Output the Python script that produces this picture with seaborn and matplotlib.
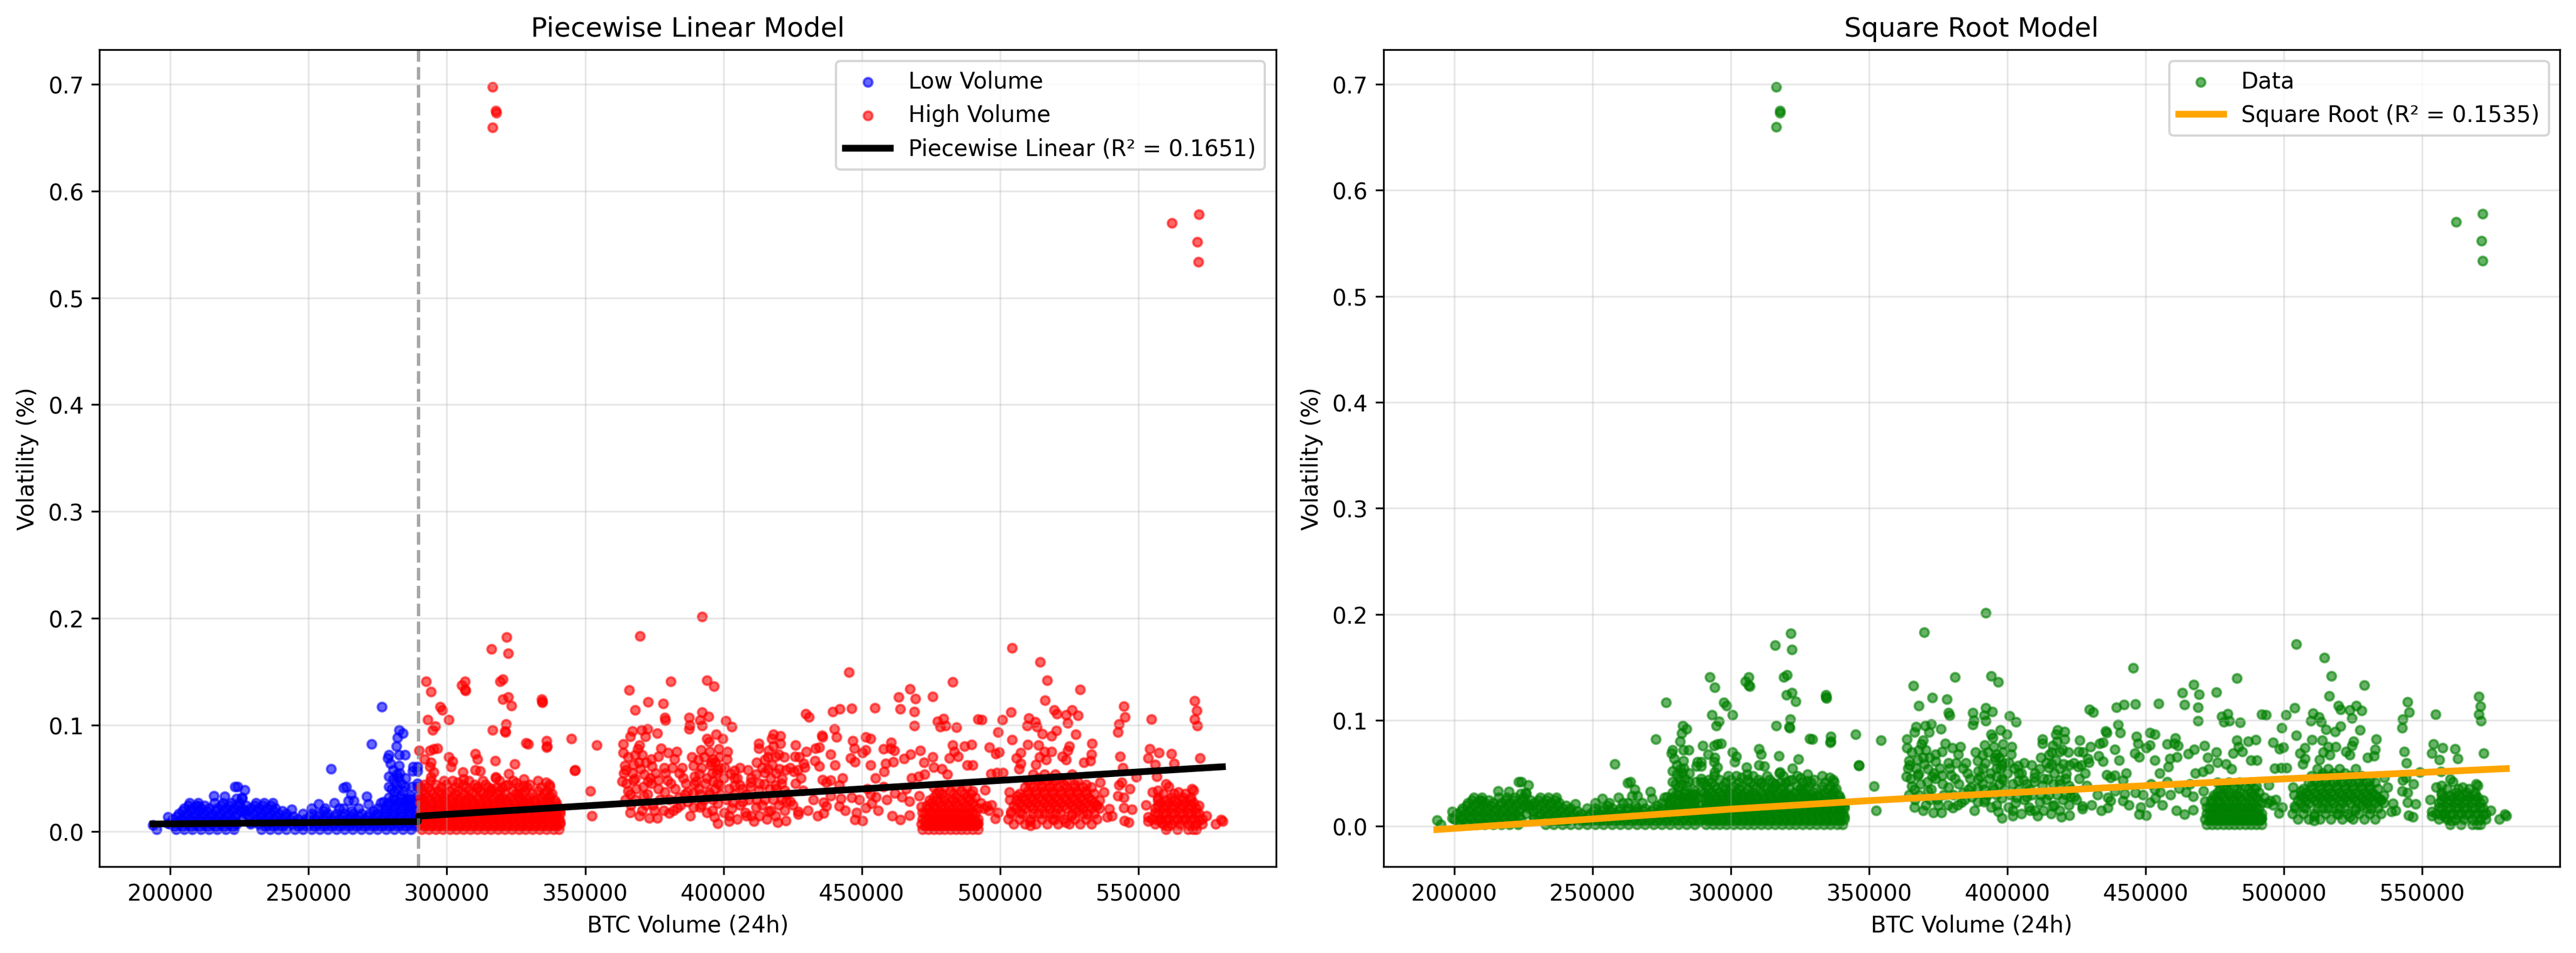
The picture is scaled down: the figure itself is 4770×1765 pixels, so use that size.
import numpy as np
import pandas as pd
import matplotlib
matplotlib.use("Agg")
import matplotlib.pyplot as plt
import seaborn as sns

# volume in thousands of BTC, volatility in %
threshold_k = 289.7

# low volume (blue) – scattered points and the spike just below the threshold
low_sparse = [
    (193.7, 0.006), (195.1, 0.002), (199.2, 0.014), (199.2, 0.008), (215.8, 0.0335),
    (219.7, 0.033), (223.3, 0.042), (224.3, 0.042), (226.8, 0.039), (225.9, 0.032),
    (226.9, 0.020), (228.8, 0.009), (210.0, 0.024), (243.8, 0.021), (253.6, 0.026),
    (258.1, 0.059), (259.3, 0.027), (262.7, 0.041), (263.6, 0.042), (265.3, 0.035),
    (264.3, 0.029), (266.3, 0.029), (262.7, 0.022), (271.0, 0.033), (271.5, 0.026),
    (272.8, 0.082), (276.5, 0.117), (277.0, 0.028),
    (282.7, 0.095), (284.0, 0.092), (282.2, 0.088), (281.7, 0.080), (279.0, 0.072),
    (278.6, 0.069), (279.6, 0.064), (282.8, 0.072), (284.8, 0.072), (282.8, 0.062),
    (281.9, 0.054), (280.5, 0.049), (279.0, 0.052), (279.0, 0.042), (284.8, 0.042),
    (281.0, 0.037), (283.4, 0.0335), (279.0, 0.032), (286.9, 0.0335), (287.3, 0.042),
    (287.6, 0.057), (287.9, 0.061), (289.3, 0.061), (289.3, 0.057), (289.3, 0.045),
    (289.3, 0.042), (289.3, 0.0335), (280.5, 0.058), (281.5, 0.045), (282.5, 0.050),
    (283.5, 0.045), (281.0, 0.030), (282.0, 0.040), (283.0, 0.055), (284.0, 0.038),
    (285.5, 0.030), (285.0, 0.050), (280.0, 0.040), (286.0, 0.025), (283.0, 0.028),
    (287.0, 0.030),
]

# low volume dense band, read row by row (volatility level, volumes)
low_band = [
    (0.002, [202, 205, 208, 211, 214, 217, 220, 223, 233, 236, 239, 242, 245, 248, 251,
             254, 257, 260, 263, 266, 269, 272, 275, 278, 281, 284, 287]),
    (0.0045, [201.5, 204.5, 207.5, 210.5, 213.5, 216.5, 219.5, 222.5, 234.5, 237.5, 240.5,
              246.5, 249.5, 252.5, 255.5, 258.5, 261.5, 264.5, 267.5, 270.5, 273.5, 276.5,
              279.5, 282.5, 285.5, 288.5]),
    (0.007, [200, 203, 206, 209, 212, 215, 218, 221, 224, 229, 232, 235, 238, 241, 244,
             247, 250, 253, 256, 259, 262, 265, 268, 271, 274, 277, 280, 283, 286, 288.5]),
    (0.0095, [202.5, 205.5, 208.5, 211.5, 214.5, 217.5, 220.5, 223.5, 230.5, 233.5, 236.5,
              239.5, 242.5, 245.5, 248.5, 251.5, 254.5, 257.5, 260.5, 263.5, 266.5, 269.5,
              272.5, 275.5, 278.5, 281.5, 284.5, 287.5]),
    (0.012, [201, 204, 207, 210, 213, 216, 219, 222, 226, 231, 234, 237, 240, 243, 246,
             249, 252, 255, 258, 261, 264, 267, 270, 273, 276, 279, 282, 285, 288]),
    (0.0145, [202.5, 205.5, 208.5, 211.5, 214.5, 217.5, 220.5, 223.5, 228.5, 232.5, 235.5,
              238.5, 241.5, 244.5, 250.5, 253.5, 256.5, 259.5, 262.5, 265.5, 268.5, 271.5,
              274.5, 277.5, 280.5, 283.5, 286.5, 289]),
    (0.017, [203, 206, 209, 212, 215, 218, 221, 224, 227, 230, 233, 236, 239, 242, 248,
             251, 254, 257, 260, 263, 266, 269, 272, 275, 278, 281, 284, 287]),
    (0.0195, [204.5, 207.5, 210.5, 213.5, 216.5, 219.5, 222.5, 225.5, 228.5, 231.5, 234.5,
              237.5, 240.5, 255.5, 265.5, 273.5, 277.5, 280.5, 283.5, 286.5, 289]),
    (0.022, [205, 208, 211, 214, 217, 220, 223, 226, 229, 232, 235, 238, 251, 256, 261,
             268, 275, 278, 281, 284, 287]),
    (0.0245, [206.5, 209.5, 212.5, 218.5, 221.5, 224.5, 227.5, 230.5, 233.5, 236.5, 278,
              281, 284, 287]),
    (0.027, [207, 210, 216, 219, 222, 225, 231, 234, 237, 276, 279, 282, 285, 288]),
    (0.031, [224, 226, 280.5, 283.5, 286.5]),
]

# high volume (red) – scattered points
high_sparse = [
    (289.9, 0.076), (292.4, 0.141), (294.2, 0.131), (297.5, 0.117), (298.4, 0.114),
    (293.1, 0.105), (300.6, 0.105), (295.8, 0.099), (294.8, 0.095), (306.5, 0.141),
    (305.3, 0.137), (306.5, 0.133), (306.8, 0.132), (316.1, 0.171), (321.6, 0.182),
    (322.1, 0.167), (319.2, 0.141), (320.3, 0.143), (320.2, 0.124), (322.1, 0.126),
    (323.4, 0.118), (334.3, 0.124), (334.5, 0.121), (334.4, 0.122), (321.4, 0.101),
    (321.0, 0.094), (321.2, 0.093), (316.5, 0.095), (328.6, 0.083), (329.4, 0.082),
    (336.1, 0.085), (336.0, 0.079), (336.2, 0.080), (345.1, 0.087), (354.2, 0.081),
    (346.2, 0.0575), (346.3, 0.058), (351.8, 0.038), (352.5, 0.015), (295.2, 0.0775),
    (296.5, 0.078), (293.9, 0.076), (291.9, 0.068), (294.2, 0.065), (293.9, 0.061),
    (295.2, 0.056), (294.2, 0.051), (300.6, 0.070), (302.0, 0.066), (301.4, 0.061),
    (310.2, 0.073), (311.0, 0.068), (310.2, 0.058), (312.1, 0.057), (305.7, 0.056),
    (305.9, 0.049), (317.4, 0.0665), (317.7, 0.051), (317.6, 0.050), (324.5, 0.0635),
    (322.3, 0.0545), (321.1, 0.043), (325.1, 0.0455), (327.8, 0.049), (327.8, 0.043),
    (325.8, 0.036), (335.8, 0.046), (337.3, 0.042), (337.3, 0.034), (304.0, 0.046),
    (310.8, 0.041), (316.1, 0.040), (319.3, 0.031), (327.8, 0.028),
    (316.5, 0.6976), (317.7, 0.675), (317.8, 0.673), (316.5, 0.6596),
    (562.2, 0.570), (571.9, 0.578), (571.4, 0.5525), (571.8, 0.5337),
    (366.0, 0.1325), (369.9, 0.183), (381.0, 0.141), (372.8, 0.1215), (378.2, 0.120),
    (368.0, 0.114), (378.7, 0.107), (379.0, 0.1045), (387.5, 0.107), (387.8, 0.100),
    (387.5, 0.096), (367.0, 0.094), (370.3, 0.095), (372.5, 0.0965), (376.0, 0.092),
    (366.3, 0.089), (371.7, 0.089), (363.7, 0.082), (369.6, 0.081), (369.0, 0.0775),
    (363.7, 0.074), (368.0, 0.072), (376.4, 0.0705), (380.0, 0.074), (382.3, 0.068),
    (364.4, 0.062), (364.7, 0.058), (371.9, 0.065), (374.1, 0.0615), (378.6, 0.060),
    (370.0, 0.059), (371.3, 0.054), (363.4, 0.047), (368.0, 0.0495), (372.8, 0.047),
    (376.4, 0.048), (379.7, 0.048), (366.3, 0.035), (371.2, 0.0335), (378.7, 0.037),
    (383.9, 0.032), (386.9, 0.037), (366.3, 0.018), (369.6, 0.015), (373.2, 0.013),
    (376.1, 0.013), (380.3, 0.0175), (383.3, 0.0225), (389.2, 0.023), (389.2, 0.062),
    (389.5, 0.052), (389.5, 0.0445), (389.2, 0.036),
    (364.5, 0.030), (366.5, 0.025), (368.5, 0.040), (370.5, 0.020), (372.5, 0.035),
    (374.5, 0.025), (376.5, 0.040), (378.5, 0.020), (380.5, 0.030), (382.5, 0.040),
    (384.5, 0.025), (386.5, 0.045), (388.0, 0.015), (367.0, 0.055), (373.5, 0.050),
    (379.0, 0.055), (385.0, 0.060), (365.0, 0.045), (369.5, 0.065), (375.5, 0.055),
    (381.5, 0.060), (387.0, 0.028), (365.5, 0.070), (367.5, 0.063), (370.5, 0.072),
    (374.0, 0.068), (377.5, 0.078), (383.0, 0.075), (385.5, 0.050), (388.5, 0.070),
    (365.5, 0.038), (367.5, 0.048), (371.0, 0.042), (374.0, 0.045), (377.0, 0.030),
    (381.0, 0.045), (384.0, 0.055), (386.0, 0.035), (382.0, 0.020), (375.0, 0.020),
    (372.0, 0.025), (368.0, 0.030), (364.0, 0.055),
    (392.2, 0.2015), (394.1, 0.142), (396.6, 0.136), (392.2, 0.112), (394.6, 0.108),
    (391.5, 0.1045), (392.2, 0.0995), (400.8, 0.104), (403.1, 0.0985), (397.4, 0.091),
    (399.7, 0.087), (394.1, 0.087), (394.8, 0.084), (391.8, 0.0765), (398.4, 0.0775),
    (390.9, 0.0675), (396.1, 0.068), (401.3, 0.068), (395.4, 0.0625), (398.0, 0.058),
    (391.2, 0.0545), (403.9, 0.0575), (402.6, 0.0545), (408.8, 0.058), (411.7, 0.054),
    (396.1, 0.047), (398.7, 0.0435), (403.9, 0.043), (405.9, 0.0435), (409.8, 0.046),
    (409.8, 0.042), (390.2, 0.047), (391.5, 0.035), (394.8, 0.037), (396.1, 0.030),
    (398.0, 0.0265), (391.5, 0.023), (394.1, 0.018), (396.7, 0.014), (398.0, 0.008),
    (400.3, 0.018), (403.3, 0.0275), (407.8, 0.018), (408.2, 0.015), (411.7, 0.023),
    (412.7, 0.0385), (412.7, 0.0825), (412.7, 0.078), (416.3, 0.076), (418.1, 0.091),
    (417.5, 0.087), (420.6, 0.0895), (420.6, 0.0825), (418.9, 0.0705), (419.9, 0.0725),
    (415.0, 0.0675), (417.6, 0.0625), (416.0, 0.059), (420.2, 0.059), (415.0, 0.0555),
    (422.5, 0.058), (421.2, 0.0495), (414.7, 0.0445), (418.9, 0.0435), (416.6, 0.040),
    (422.2, 0.0385), (416.3, 0.019), (418.9, 0.015), (422.2, 0.020), (422.8, 0.0285),
    (424.1, 0.0285), (419.6, 0.009), (415.7, 0.012), (422.5, 0.0105), (427.1, 0.019),
    (427.1, 0.0165), (426.1, 0.081), (425.8, 0.0705), (427.4, 0.070), (430.0, 0.075),
    (426.8, 0.058), (429.0, 0.064), (429.4, 0.0605), (428.7, 0.0385), (425.5, 0.0565),
    (429.7, 0.1105), (431.0, 0.1075), (433.3, 0.078), (434.6, 0.079), (433.0, 0.0665),
    (434.6, 0.0615), (435.6, 0.090), (435.9, 0.0885), (435.9, 0.0485), (437.2, 0.046),
    (438.8, 0.048), (441.8, 0.0435), (438.8, 0.0725), (440.3, 0.0625), (439.5, 0.1125),
    (442.1, 0.115), (446.3, 0.1155), (440.1, 0.096), (440.8, 0.0885), (445.4, 0.1495),
    (446.7, 0.085), (447.3, 0.078), (446.0, 0.069), (447.6, 0.0655), (436.2, 0.0275),
    (437.2, 0.024), (436.2, 0.0175), (441.8, 0.024), (442.4, 0.031), (446.3, 0.032),
    (438.8, 0.0335), (448.2, 0.018), (447.6, 0.0115), (450.2, 0.0105), (451.5, 0.0225),
    (453.5, 0.0265), (451.5, 0.0885), (453.2, 0.087), (451.5, 0.0765), (450.2, 0.074),
    (454.7, 0.116), (453.2, 0.0625), (455.2, 0.0325), (453.2, 0.035), (457.8, 0.042),
    (458.1, 0.0565), (458.7, 0.064), (457.8, 0.0775), (460.7, 0.0835), (460.4, 0.078),
    (461.7, 0.076), (461.3, 0.0655), (462.0, 0.036), (464.6, 0.0325), (467.2, 0.0285),
    (464.0, 0.0115), (467.2, 0.0155), (463.3, 0.126), (467.4, 0.1335), (469.3, 0.1245),
    (464.0, 0.115), (469.0, 0.1125), (469.0, 0.0995), (465.3, 0.0685), (467.6, 0.0725),
    (471.2, 0.076), (472.5, 0.065), (475.6, 0.1265), (475.6, 0.070), (476.0, 0.0605),
    (470.6, 0.0515), (472.8, 0.054), (470.8, 0.0335), (471.5, 0.0235), (477.4, 0.1035),
    (479.6, 0.106), (478.3, 0.0985), (480.3, 0.0995), (484.2, 0.098), (482.9, 0.140),
    (482.9, 0.081), (487.1, 0.080), (489.7, 0.0815), (481.6, 0.069), (483.5, 0.075),
    (484.9, 0.0705), (488.1, 0.0625), (490.1, 0.0625), (479.0, 0.059), (481.0, 0.054),
    (492.0, 0.1055),
    (401, 0.030), (404, 0.035), (406, 0.025), (409, 0.030), (412, 0.030), (414, 0.025),
    (418, 0.030), (420, 0.025), (423, 0.035), (426, 0.045), (428, 0.050), (413, 0.045),
    (417, 0.050), (419, 0.055), (421, 0.045), (410, 0.015), (425, 0.025), (392, 0.060),
    (393, 0.070), (395, 0.075), (397, 0.065), (399, 0.060), (394, 0.050), (396, 0.055),
    (398, 0.045), (391, 0.040), (393, 0.030), (395, 0.035), (397, 0.040), (399, 0.035),
    (400, 0.050), (396, 0.020), (392, 0.025), (405, 0.050), (407, 0.040), (402, 0.015),
    (413, 0.015), (417, 0.020), (421, 0.030), (402, 0.010), (405, 0.012), (411, 0.010),
    (393.5, 0.045), (395.5, 0.065), (398.5, 0.070), (400.5, 0.060), (402, 0.040),
    (404, 0.050), (406, 0.060), (408, 0.035), (410, 0.050), (414, 0.060), (416, 0.070),
    (418, 0.080), (422, 0.070), (424, 0.060), (419, 0.040), (415, 0.030), (412, 0.065),
    (403, 0.022), (407, 0.028), (397.5, 0.055), (401.5, 0.075),
    (430.5, 0.020), (432.5, 0.030), (434, 0.015), (444, 0.020), (449, 0.030),
    (452, 0.040), (456, 0.020), (459, 0.030), (461, 0.015), (466, 0.040), (468, 0.050),
    (455, 0.050), (443, 0.050),
    (504.4, 0.172), (514.5, 0.159), (517.1, 0.142), (529.0, 0.133), (516.3, 0.123),
    (503.9, 0.112), (493.5, 0.105), (500.8, 0.105), (519.6, 0.114), (520.5, 0.1105),
    (526.1, 0.114), (528.1, 0.109), (523.8, 0.1095), (524.5, 0.102), (510.4, 0.1065),
    (509.8, 0.0995), (512.7, 0.103), (513.4, 0.0985), (515.2, 0.0915), (518.5, 0.0895),
    (520.4, 0.0945), (499.2, 0.093), (504.4, 0.086), (527.4, 0.091), (496.1, 0.079),
    (498.4, 0.073), (499.7, 0.0745), (510.1, 0.0815), (513.9, 0.081), (507.5, 0.074),
    (505.9, 0.069), (516.0, 0.075), (516.6, 0.0675), (518.6, 0.075), (514.3, 0.070),
    (525.1, 0.080), (524.5, 0.076), (522.5, 0.0705), (523.8, 0.0675), (533.3, 0.0825),
    (533.0, 0.0725), (532.6, 0.0665), (530.3, 0.065), (542.7, 0.093), (543.0, 0.101),
    (545.2, 0.1075), (544.7, 0.1175), (543.4, 0.0705), (554.8, 0.1055), (570.4, 0.1225),
    (571.1, 0.1135), (570.4, 0.1055), (571.3, 0.0995), (572.2, 0.069), (554.1, 0.0775),
    (557.4, 0.074), (561.9, 0.073), (553.5, 0.069), (556.1, 0.063), (562.9, 0.064),
    (556.7, 0.0515), (549.2, 0.051), (544.3, 0.060), (496.7, 0.0545), (498.9, 0.0555),
    (501.0, 0.0555), (494.5, 0.039), (506.8, 0.059), (507.5, 0.064), (512.9, 0.063),
    (503.3, 0.037), (503.6, 0.030), (506.2, 0.0335), (503.9, 0.019), (507.2, 0.018),
    (499.3, 0.018), (498.2, 0.0125), (495.1, 0.024), (491.8, 0.007), (510.8, 0.010),
    (510.9, 0.0055), (523.7, 0.009), (519.6, 0.0115), (525.8, 0.015), (528.4, 0.020),
    (531.6, 0.0165), (537.5, 0.037), (536.2, 0.046), (534.9, 0.025), (539.4, 0.0215),
    (538.8, 0.014), (540.4, 0.015), (542.7, 0.0335), (544.7, 0.032), (543.0, 0.0435),
    (544.0, 0.046), (546.9, 0.040), (547.6, 0.021), (544.7, 0.0225), (545.0, 0.0105),
    (546.6, 0.009), (552.8, 0.025), (553.5, 0.014), (553.5, 0.0098), (555.1, 0.037),
    (557.0, 0.0385), (560.0, 0.0445), (561.0, 0.042), (564.5, 0.037), (569.4, 0.040),
    (570.0, 0.0385), (574.7, 0.015), (577.9, 0.007), (579.9, 0.0115), (580.4, 0.0098),
    (569.8, 0.002), (560.6, 0.0047), (558.4, 0.009), (493.0, 0.027), (494.0, 0.022),
    (496.0, 0.020), (497.0, 0.025), (492.0, 0.008),
]

# high volume dense blocks, read row by row (volatility level, volumes)
high_band = [
    (0.002, [291, 293.5, 296, 298.5, 301, 303.5, 306, 308.5, 311, 313.5, 316, 318.5, 321,
             323.5, 326, 328.5, 331, 333.5, 336, 338.5, 340.5,
             472, 474, 476, 478, 480, 482, 484, 486, 488, 490, 492,
             560, 564, 568, 571]),
    (0.0045, [292, 294.5, 297, 299.5, 302, 304.5, 307, 309.5, 312, 314.5, 317, 319.5, 322,
              324.5, 327, 329.5, 332, 334.5, 337, 339.5]),
    (0.005, [473, 475, 477, 479, 481, 483, 485, 487, 489, 491]),
    (0.007, [290.5, 292, 294.5, 297, 299.5, 302, 304.5, 307, 309.5, 312, 314.5, 317, 319.5,
             322, 324.5, 327, 329.5, 332, 334.5, 337, 339.5, 341,
             471.5, 473.5, 475.5, 477.5, 479.5, 481.5, 483.5, 485.5, 487.5, 489.5, 491.5,
             505, 509, 513, 517, 521, 525, 529, 533,
             556, 559, 562, 565, 568, 571, 573]),
    (0.0095, [291.5, 294, 296.5, 299, 301.5, 304, 306.5, 309, 311.5, 314, 316.5, 319, 321.5,
              324, 326.5, 329, 331.5, 334, 336.5, 339, 341]),
    (0.011, [473, 475, 477, 479, 481, 483, 485, 487, 489, 491,
             557, 560, 563, 566, 569, 572]),
    (0.012, [291, 293.5, 296, 298.5, 301, 303.5, 306, 308.5, 311, 313.5, 316, 318.5, 321,
             323.5, 326, 328.5, 331, 333.5, 336, 338.5, 340.5,
             472, 474, 476, 478, 480, 482, 484, 486, 488, 490, 492,
             503, 507, 511, 515, 519, 523, 527, 531, 535,
             555, 558, 561, 564, 567, 570, 573]),
    (0.0145, [292, 294.5, 297, 299.5, 302, 304.5, 307, 309.5, 312, 314.5, 317, 319.5, 322,
              324.5, 327, 329.5, 332, 334.5, 337, 339.5]),
    (0.017, [290.5, 292, 294.5, 297, 299.5, 302, 304.5, 307, 309.5, 312, 314.5, 317, 319.5,
             322, 324.5, 327, 329.5, 332, 334.5, 337, 339.5, 341,
             473, 475, 477, 479, 481, 483, 485, 487, 489, 491,
             504, 508, 512, 514, 516, 518, 520, 522, 526, 530, 534,
             557, 560, 563, 566, 569, 572]),
    (0.018, [472, 474, 476, 478, 480, 482, 484, 486, 488, 490,
             556, 559, 562, 565, 568, 571]),
    (0.0195, [291.5, 294, 296.5, 299, 301.5, 304, 306.5, 309, 311.5, 314, 316.5, 319, 321.5,
              324, 326.5, 329, 331.5, 334, 336.5, 339, 341]),
    (0.022, [291, 293.5, 296, 298.5, 301, 303.5, 306, 308.5, 311, 313.5, 316, 318.5, 321,
             323.5, 326, 328.5, 331, 333.5, 336, 338.5, 340.5,
             474, 477, 480, 483, 486, 489, 492,
             506, 509, 512, 515, 518, 521, 524, 527, 530, 533, 536,
             556, 559, 562, 565, 568, 571]),
    (0.0245, [292, 294.5, 297, 299.5, 302, 304.5, 307, 309.5, 312, 314.5, 317, 319.5, 322,
              324.5, 327, 329.5, 332, 334.5, 337, 339.5,
              473.5, 476, 478.5, 481.5, 484.5, 487.5, 490.5,
              505, 508, 511, 514, 517, 520, 523, 526, 529, 532, 535,
              557, 560, 563, 566, 569, 572]),
    (0.027, [290.5, 292, 294.5, 297, 299.5, 302, 304.5, 307, 309.5, 312, 314.5, 317, 319.5,
             322, 324.5, 327, 329.5, 332, 334.5, 337, 339.5,
             475, 478, 481, 484, 487, 490,
             507, 510, 513, 516, 519, 522, 525, 528, 531, 534,
             558, 561, 564, 567, 570]),
    (0.0295, [291.5, 294, 296.5, 299, 301.5, 304, 306.5, 309, 311.5, 314, 316.5, 319, 321.5,
              324, 326.5, 329, 331.5, 334, 336.5, 339,
              474.5, 477, 480, 483, 486, 489,
              506, 509, 512, 515, 518, 521, 524, 527, 530, 533, 536,
              557, 560, 563, 566, 569]),
    (0.032, [290.5, 293, 296, 299, 302, 305, 308, 311, 314, 317, 320, 323, 326, 330, 334, 337,
             476, 480, 484, 488, 491,
             508, 511, 514, 517, 520, 523, 526, 529, 532,
             557, 562, 566, 569]),
    (0.0355, [292, 295, 298, 300, 303, 306, 309, 313, 315, 318, 321, 325, 327, 331, 335, 338,
              477, 479, 483, 487, 489.5,
              507, 510, 513, 516, 519, 522, 525, 528, 531, 534,
              559, 563, 567]),
    (0.038, [291, 294, 297, 301, 304, 308, 312, 316, 319, 324, 328, 333, 336,
             478, 482, 486, 490,
             510, 513, 516, 519, 522, 525, 528, 531]),
    (0.0415, [290.5, 293, 298, 303, 307, 311, 315, 318, 320, 326, 329, 334,
              476, 480, 484, 488,
              509, 512, 515, 518, 521, 524, 527, 530, 533]),
    (0.044, [292, 296, 300, 306, 310, 314, 322, 330, 337,
             511, 515, 519, 523, 527, 531]),
    (0.0475, [294, 299, 302, 308, 313, 319, 324, 333,
              510, 514, 517, 520, 524, 528]),
    (0.050, [514, 518, 522]),
    (0.054, [512, 516, 520, 526]),
]

# fitted curves
pw_vol_k = [193.7, 289.6, 289.8, 580.4]
pw_vola = [0.0072, 0.0094, 0.0146, 0.0608]
sqrt_vol_k = [193.7, 250, 300, 350, 400, 450, 500, 550, 580.4]
sqrt_vola = [-0.003, 0.007, 0.0163, 0.0243, 0.0316, 0.0384, 0.0448, 0.0509, 0.0545]
r2_piecewise = 0.1651
r2_sqrt = 0.1535


def to_frame(sparse, band):
    pts = list(sparse)
    for level, vols in band:
        pts += [(v, level) for v in vols]
    df = pd.DataFrame(pts, columns=["vol_k", "volatility"])
    df["volume"] = df["vol_k"] * 1000
    return df


low = to_frame(low_sparse, low_band)
high = to_frame(high_sparse, high_band)
data = pd.concat([low, high], ignore_index=True)

pw = pd.DataFrame({"volume": np.array(pw_vol_k) * 1000, "volatility": pw_vola})
sq = pd.DataFrame({"volume": np.array(sqrt_vol_k) * 1000, "volatility": sqrt_vola})

pt_kw = dict(alpha=0.6, s=15, edgecolor="face", linewidth=1.0)

fig, (ax1, ax2) = plt.subplots(1, 2, figsize=(16, 6))

sns.scatterplot(data=low, x="volume", y="volatility", color="blue", label="Low Volume", ax=ax1, **pt_kw)
sns.scatterplot(data=high, x="volume", y="volatility", color="red", label="High Volume", ax=ax1, **pt_kw)
sns.lineplot(data=pw, x="volume", y="volatility", color="black", linewidth=3, sort=False,
             estimator=None, label="Piecewise Linear (R\u00b2 = {:.4f})".format(r2_piecewise), ax=ax1)
ax1.axvline(threshold_k * 1000, color="gray", linestyle="--", alpha=0.7, linewidth=1.5)
ax1.set_title("Piecewise Linear Model", fontsize=12)
ax1.set_xlabel("BTC Volume (24h)")
ax1.set_ylabel("Volatility (%)")
ax1.legend(loc="upper right")
ax1.grid(True, alpha=0.3)

sns.scatterplot(data=data, x="volume", y="volatility", color="green", label="Data", ax=ax2, **pt_kw)
sns.lineplot(data=sq, x="volume", y="volatility", color="orange", linewidth=3, sort=False,
             estimator=None, label="Square Root (R\u00b2 = {:.4f})".format(r2_sqrt), ax=ax2)
ax2.set_title("Square Root Model", fontsize=12)
ax2.set_xlabel("BTC Volume (24h)")
ax2.set_ylabel("Volatility (%)")
ax2.legend(loc="upper right")
ax2.grid(True, alpha=0.3)

for ax in (ax1, ax2):
    ax.set_xlim(174400, 599800)

plt.tight_layout()
plt.savefig("out.png", dpi=300, bbox_inches="tight")
